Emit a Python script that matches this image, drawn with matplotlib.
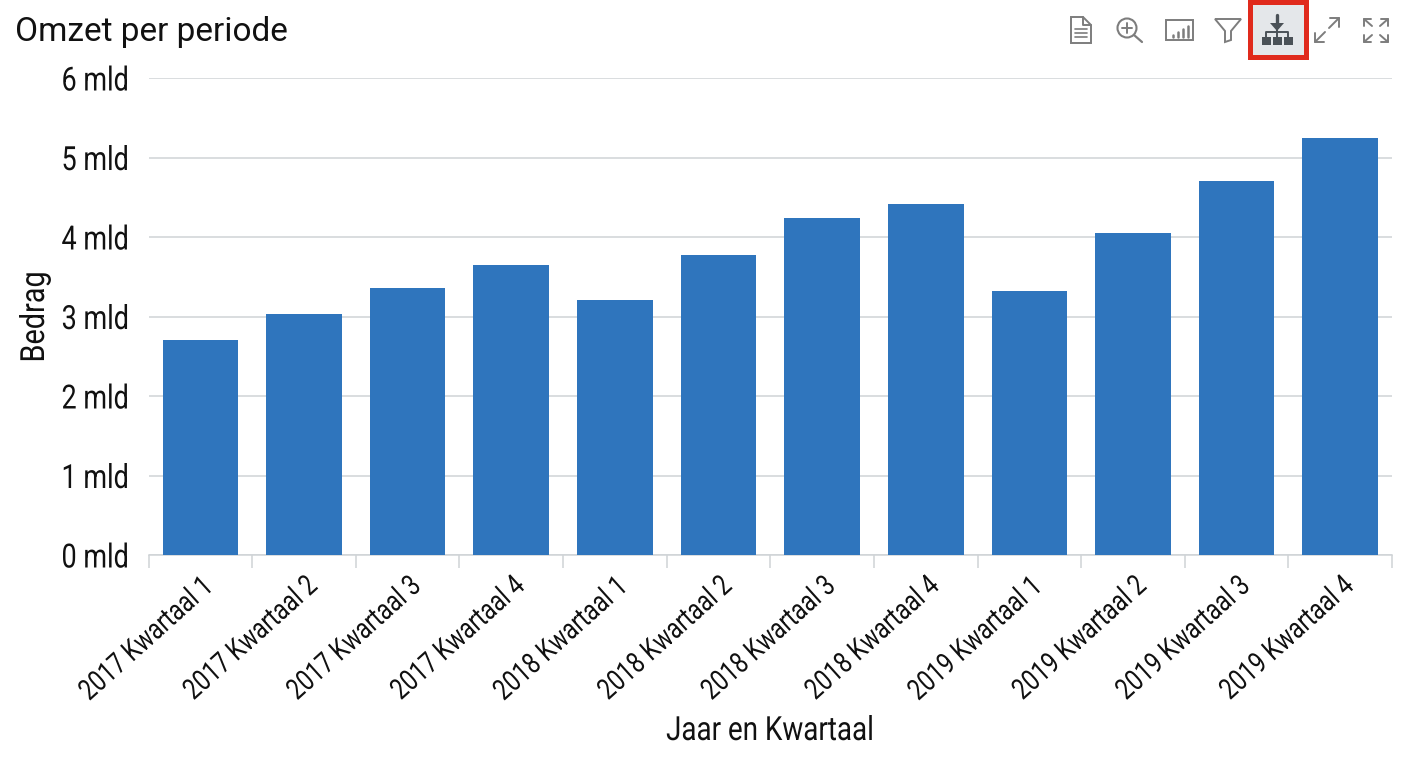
"""Omzet per periode: bar chart with dashboard toolbar icons."""
import matplotlib
matplotlib.use("Agg")
import matplotlib.pyplot as plt
from matplotlib.patches import Circle, Polygon, Rectangle
from matplotlib.patheffects import AbstractPathEffect
from matplotlib.transforms import Affine2D

W, H = 1408, 768

categories = [
    "2017 Kwartaal 1", "2017 Kwartaal 2", "2017 Kwartaal 3", "2017 Kwartaal 4",
    "2018 Kwartaal 1", "2018 Kwartaal 2", "2018 Kwartaal 3", "2018 Kwartaal 4",
    "2019 Kwartaal 1", "2019 Kwartaal 2", "2019 Kwartaal 3", "2019 Kwartaal 4",
]
values = [2.71, 3.03, 3.36, 3.65, 3.21, 3.77, 4.24, 4.41, 3.32, 4.05, 4.71, 5.24]
y_ticks = [0, 1, 2, 3, 4, 5, 6]
y_labels = ["0 mld", "1 mld", "2 mld", "3 mld", "4 mld", "5 mld", "6 mld"]

BLUE = "#2f75bd"
GRID = "#cfd3d6"
ICON = "#7d7d7d"
DARK = "#4a5157"
TEXT = "#111111"

plt.rcParams["font.family"] = ["Roboto", "DejaVu Sans"]


class Squeeze(AbstractPathEffect):
    """Narrow the glyphs along the baseline, Roboto has no condensed cut here."""

    def __init__(self, factor, anchor):
        self.factor = factor
        self.anchor = anchor  # 0 left end stays put, 0.5 centre, 1 right end

    def draw_path(self, renderer, gc, tpath, affine, rgbFace=None):
        box = tpath.get_extents()
        fix = box.x0 + self.anchor * box.width
        squeeze = Affine2D().translate(-fix, 0).scale(self.factor, 1).translate(fix, 0)
        renderer.draw_path(gc, tpath, squeeze + affine, rgbFace)


fig = plt.figure(figsize=(W / 100, H / 100), dpi=100, facecolor="white")
ax = fig.add_axes([148.6 / W, 1 - 555 / H, (1392 - 148.6) / W, (555 - 78) / H])

positions = list(range(len(categories)))
ax.bar(positions, values, width=0.73, color=BLUE, zorder=3)
ax.set_xlim(-0.5, len(categories) - 0.5)
ax.set_ylim(0, 6)

ax.set_yticks(y_ticks, y_labels, fontsize=24, color=TEXT)
ax.tick_params(axis="y", length=0, pad=14)
for lab in ax.get_yticklabels():
    lab.set_path_effects([Squeeze(0.81, 1)])
    lab.set_y(lab.get_position()[1])
ax.grid(axis="y", color=GRID, linewidth=1.1, zorder=0)
ax.set_axisbelow(True)

# ticks sit on the category edges, labels on the centres
ax.set_xticks([p - 0.5 for p in positions] + [len(categories) - 0.5])
ax.tick_params(axis="x", which="major", length=9.4, width=1.1, color=GRID, labelbottom=False)
ax.set_xticks(positions, minor=True)
ax.set_xticklabels(categories, minor=True, rotation=42, ha="right", va="top",
                   rotation_mode="anchor", fontsize=21, color=TEXT)
ax.tick_params(axis="x", which="minor", length=0, pad=12)
for lab in ax.get_xticklabels(minor=True):
    lab.set_path_effects([Squeeze(0.8, 1)])

for side in ["top", "right", "left"]:
    ax.spines[side].set_visible(False)
ax.spines["bottom"].set_color(GRID)
ax.spines["bottom"].set_linewidth(1.1)

# titles in pixel positions
fig.text(15 / W, 1 - 32 / H, "Omzet per periode", fontsize=24, color=TEXT, va="center", ha="left")
y_title = fig.text(35 / W, 1 - 317 / H, "Bedrag", fontsize=24, rotation=90, color=TEXT,
                   va="center", ha="center")
y_title.set_path_effects([Squeeze(0.865, 0.5)])
x_title = fig.text(770 / W, 1 - 731 / H, "Jaar en Kwartaal", fontsize=24, color=TEXT,
                   va="center", ha="center")
x_title.set_path_effects([Squeeze(0.834, 0.5)])

# toolbar icons on an overlay in pixel coordinates
ov = fig.add_axes([0, 0, 1, 1], facecolor="none")
ov.set_xlim(0, W)
ov.set_ylim(H, 0)
ov.axis("off")


def line(xs, ys, color=ICON, lw=1.4):
    ov.plot(xs, ys, color=color, lw=lw, solid_capstyle="round")


def corner(x, y, dx, dy, size=8):
    line([x + dx * size, x, x], [y, y, y + dy * size])


# document
ov.add_patch(Polygon([[1071, 17], [1083, 17], [1091, 25], [1091, 43], [1071, 43]],
                     closed=True, fill=False, ec=ICON, lw=1.4))
line([1083, 1083, 1091], [17, 25, 25])
for yy in [29, 33, 37]:
    line([1075, 1087], [yy, yy], lw=1.2)

# zoom
ov.add_patch(Circle((1127, 28), 9.5, fill=False, ec=ICON, lw=1.5))
line([1134, 1142], [35, 42], lw=1.6)
line([1122, 1132], [28, 28])
line([1127, 1127], [23, 33])

# bar chart
ov.add_patch(Rectangle((1166, 20), 27, 20, fill=False, ec=ICON, lw=1.4))
for bx, top in zip([1173, 1178, 1183, 1188], [35, 32, 29, 26]):
    line([bx, bx], [37, top], lw=1.8)

# funnel
ov.add_patch(Polygon([[1215, 19], [1241, 19], [1231, 31], [1231, 40], [1225, 42], [1225, 31]],
                     closed=True, fill=False, ec=ICON, lw=1.4))

# drill-down, highlighted
ov.add_patch(Rectangle((1249.5, 2), 56, 55, fc="#e4e7ea", ec="#e02a1c", lw=3.6))
line([1277, 1277], [15, 26], color=DARK, lw=2.4)
ov.add_patch(Polygon([[1270, 23], [1284, 23], [1277, 31]], closed=True, fc=DARK, ec="none"))
line([1266, 1266, 1288, 1288], [37, 32, 32, 37], color=DARK, lw=1.4)
line([1277, 1277], [30, 37], color=DARK, lw=1.4)
for bx in [1262, 1272.5, 1284]:
    ov.add_patch(Rectangle((bx, 37), 9, 8, fc=DARK, ec="none"))

# expand diagonal, two arrows with a gap
line([1315, 1325], [42, 32])
corner(1315, 42, 1, -1, 9)
line([1329, 1339], [28, 18])
corner(1339, 18, -1, 1, 9)

# fullscreen corners
for cx, cy, dx, dy in [(1364, 19, 1, 1), (1388, 19, -1, 1), (1364, 42, 1, -1), (1388, 42, -1, -1)]:
    corner(cx, cy, dx, dy, 7)
    line([cx, cx + dx * 8], [cy, cy + dy * 7])

fig.savefig("out.png", dpi=100)
